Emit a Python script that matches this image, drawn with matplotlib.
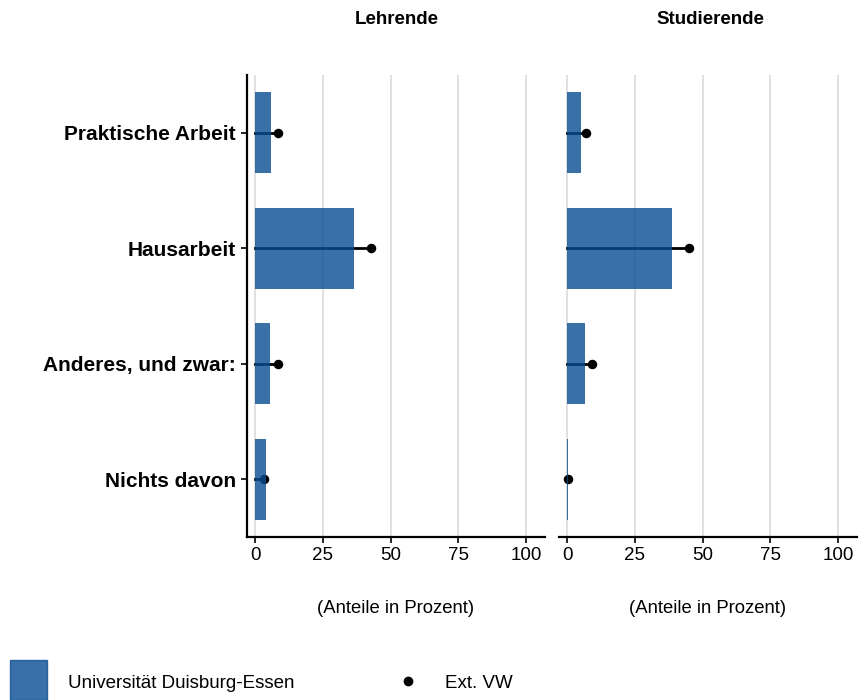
import matplotlib
matplotlib.use("Agg")
import matplotlib.pyplot as plt
from matplotlib.patches import Rectangle
from matplotlib.lines import Line2D

plt.rcParams["font.family"] = ["Liberation Sans", "DejaVu Sans"]

categories = ["Praktische Arbeit", "Hausarbeit", "Anderes, und zwar:", "Nichts davon"]
panels = ["Lehrende", "Studierende"]
ude_lehrende = [6.0, 36.5, 5.5, 4.1]
ext_lehrende = [8.6, 42.7, 8.6, 3.3]
ude_studierende = [5.3, 38.8, 6.6, 0.3]
ext_studierende = [6.9, 45.0, 9.3, 0.5]
xticks = [0, 25, 50, 75, 100]

bar_color = "#094C92"
W, H = 862, 700

fig = plt.figure(figsize=(W / 100, H / 100), dpi=100)
ax_l = fig.add_axes([247 / W, 1 - 537 / H, (545 - 247) / W, (537 - 75) / H])
ax_r = fig.add_axes([559 / W, 1 - 537 / H, (857 - 559) / W, (537 - 75) / H])

data = [(ude_lehrende, ext_lehrende), (ude_studierende, ext_studierende)]
ypos = list(range(len(categories)))

for i, (ax, title, (ude, ext)) in enumerate(zip([ax_l, ax_r], panels, data)):
    for x in xticks:
        ax.axvline(x, color="#dedede", lw=1.3, zorder=0)
    for y, v in zip(ypos, ext):
        ax.plot([0, v], [y, y], color="black", lw=2.0, zorder=1)
    ax.scatter(ext, ypos, color="black", s=34, zorder=2)
    ax.barh(ypos, ude, height=0.7, color=bar_color, alpha=0.8, zorder=3)

    ax.set_xlim(-3, 107)
    ax.set_ylim(len(categories) - 0.5, -0.5)
    ax.set_xticks(xticks)
    ax.set_xticklabels([str(x) for x in xticks], fontsize=13.5)
    ax.tick_params(axis="x", length=4, width=1.2, color="black", pad=3)
    for s in ["top", "right"]:
        ax.spines[s].set_visible(False)
    ax.spines["bottom"].set_linewidth(1.6)
    ax.set_xlabel("(Anteile in Prozent)", fontsize=13.3, labelpad=26)
    if i == 0:
        ax.spines["left"].set_linewidth(1.6)
        ax.set_yticks(ypos)
        ax.set_yticklabels(categories, fontsize=15, fontweight="bold")
        ax.tick_params(axis="y", length=4, width=1.2, pad=4)
    else:
        ax.spines["left"].set_visible(False)
        ax.set_yticks([])

# panel titles
fig.text(397 / W, 1 - 20 / H, panels[0], fontsize=13.5, fontweight="bold",
         ha="center", va="center")
fig.text(710 / W, 1 - 20 / H, panels[1], fontsize=13.5, fontweight="bold",
         ha="center", va="center")

# legend at bottom
fig.patches.append(Rectangle((10 / W, 0), 37 / W, 40 / H, transform=fig.transFigure,
                             color=bar_color, alpha=0.8))
fig.text(68 / W, 1 - 683 / H, "Universität Duisburg-Essen", fontsize=13.5, va="center")
fig.lines.append(Line2D([408 / W], [1 - 681 / H], transform=fig.transFigure,
                        marker="o", color="black", markersize=6, linestyle="none"))
fig.text(445 / W, 1 - 683 / H, "Ext. VW", fontsize=13.5, va="center")

fig.savefig("out.png", dpi=100)
